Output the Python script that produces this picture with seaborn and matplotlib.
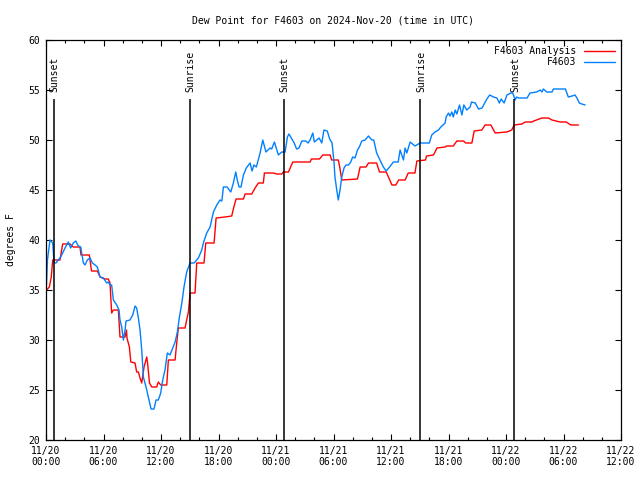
import pandas as pd
import numpy as np
import matplotlib
matplotlib.use("Agg")
import matplotlib.pyplot as plt
import seaborn as sns
from matplotlib.ticker import MultipleLocator, FixedLocator

# hours since 2024-11-20 00:00 UTC
obs_hours = [0.05, 0.15, 0.42, 0.70, 0.84, 1.04, 1.29, 1.53, 1.74, 1.98, 2.33, 2.57, 2.85, 3.10,
             3.38, 3.62, 3.90, 4.07, 4.31, 4.60, 4.84, 5.12, 5.36, 5.64, 5.99, 6.33, 6.50, 6.68,
             6.85, 7.03, 7.38, 7.62, 7.72, 7.90, 8.07, 8.25, 8.35, 8.76, 9.05, 9.29, 9.46, 9.64,
             9.81, 9.99, 10.16, 10.44, 10.68, 10.96, 11.27, 11.48, 11.72, 11.97, 12.18, 12.42,
             12.66, 12.94, 13.22, 13.47, 13.71, 13.92, 14.16, 14.40, 14.68, 15.03, 15.45, 15.90,
             16.25, 16.45, 16.77, 17.12, 17.47, 17.82, 18.16, 18.35, 18.51, 18.90, 19.28, 19.55,
             19.80, 19.98, 20.15, 20.35, 20.60, 20.90, 21.30, 21.50, 21.70, 21.95, 22.34, 22.62,
             22.95, 23.38, 23.55, 23.83, 24.25, 24.60, 24.95, 25.19, 25.35, 25.90, 26.15, 26.40,
             26.70, 27.10, 27.35, 27.55, 27.84, 28.00, 28.25, 28.50, 28.78, 29.00, 29.35, 29.60,
             29.85, 30.06, 30.15, 30.34, 30.50, 30.68, 30.86, 31.10, 31.30, 31.56, 31.80, 32.00,
             32.25, 32.50, 32.70, 32.95, 33.30, 33.65, 34.00, 34.20, 34.50, 34.85, 35.20, 35.50,
             35.85, 36.25, 36.75, 36.95, 37.30, 37.47, 37.65, 38.00, 38.50, 39.04, 40.00, 40.25,
             40.60, 40.95, 41.20, 41.65, 41.75, 42.00, 42.15, 42.35, 42.50, 42.70, 42.87, 43.15,
             43.40, 43.60, 43.90, 44.26, 44.40, 44.80, 45.13, 45.50, 46.00, 46.30, 46.70, 47.05,
             47.30, 47.50, 47.80, 48.10, 48.50, 48.70, 48.96, 49.10, 49.30, 50.20, 50.50, 51.20,
             51.57, 51.75, 51.90, 52.25, 52.80, 52.95, 54.20, 54.35, 54.50, 54.90, 55.20, 55.40,
             55.65, 55.90, 56.26]
obs_dewpt = [35.5, 38.0, 40.0, 39.7, 37.7, 37.7, 38.0, 38.3, 38.7, 39.2, 39.8, 39.2, 39.7, 39.9,
             39.4, 39.3, 37.7, 37.5, 38.0, 38.2, 37.7, 37.5, 37.3, 36.3, 36.2, 35.7, 35.8, 35.5,
             35.5, 34.0, 33.5, 33.0, 32.0, 31.3, 30.0, 31.0, 31.9, 32.0, 32.5, 33.4, 33.2, 32.2,
             31.0, 29.0, 26.3, 25.3, 24.3, 23.1, 23.1, 24.0, 24.0, 24.7, 26.0, 27.0,
             28.7, 28.5, 29.2, 29.8, 30.8, 32.3, 33.6, 35.3, 36.8, 37.7, 37.7, 38.2,
             39.0, 39.8, 40.7, 41.3, 42.8, 43.5, 44.0, 43.9, 45.3, 45.3, 44.8, 45.7,
             46.8, 45.9, 45.3, 45.3, 46.5, 47.2, 47.7, 46.9, 47.5, 47.3, 48.7, 50.0,
             48.8, 49.2, 49.1, 49.8, 48.5, 48.8, 48.8, 50.3, 50.6, 49.7, 49.1, 49.2,
             49.9, 49.9, 49.7, 50.0, 50.7, 49.8, 50.0, 50.2, 49.7, 51.0, 50.9, 50.1,
             49.7, 47.7, 46.3, 45.0, 44.0, 45.0, 46.3, 47.2, 47.5, 47.5, 47.8, 48.3,
             48.2, 49.0, 49.3, 49.9, 50.0, 50.4, 50.0, 50.0, 48.7, 48.0, 47.3, 46.9,
             47.3, 47.8, 47.8, 49.0, 48.0, 49.2, 48.7, 49.8, 49.4, 49.7, 49.7, 50.5,
             50.8, 51.0, 51.3, 51.7, 52.3, 52.7, 52.4, 52.8, 52.3, 53.0, 52.6, 53.5,
             52.5, 53.5, 53.0, 53.3, 53.8, 53.7, 53.1, 53.2, 54.1, 54.5, 54.3, 54.2,
             53.7, 54.1, 53.7, 54.5, 54.7, 54.7, 54.0, 54.3, 54.2, 54.2, 54.7, 54.8,
             55.0, 54.8, 55.1, 54.8, 54.8, 55.1, 55.1, 54.7, 54.3, 54.4, 54.5, 54.2,
             53.7, 53.6, 53.5]

ana_hours = [0.05, 0.35, 0.55, 0.70, 1.46, 1.74, 2.50, 2.85, 3.55, 3.65, 4.52, 4.75, 5.36, 5.64,
             6.16, 6.50, 6.68, 6.85, 7.03, 7.55, 7.72, 8.25, 8.40, 8.45, 8.70, 8.85, 9.29, 9.46,
             9.64, 9.81, 9.99, 10.23, 10.51, 10.60, 10.80, 11.04, 11.55, 11.72, 11.97, 12.60,
             12.77, 13.47, 13.64, 13.81, 14.51, 14.68, 14.86, 15.03, 15.55, 15.73, 16.49, 16.67,
             17.54, 17.75, 18.68, 19.38, 19.55, 19.83, 20.60, 20.78, 21.47, 21.82, 22.16, 22.68,
             22.79, 23.73, 24.08, 24.60, 24.77, 25.30, 25.75, 27.56, 27.70, 28.53, 28.88, 29.65,
             29.80, 30.50, 30.65, 30.86, 32.50, 32.78, 33.40, 33.65, 34.50, 34.80, 35.50, 36.10,
             36.50, 36.80, 37.47, 37.80, 38.50, 38.70, 39.60, 39.70, 40.43, 40.80, 41.65, 41.80,
             42.50, 42.87, 43.56, 43.80, 44.44, 44.68, 45.48, 45.82, 46.42, 46.87, 48.10, 48.60,
             48.85, 49.66, 50.00, 50.70, 50.90, 51.74, 52.43, 52.80, 53.65, 54.28, 54.77, 55.56]
ana_dewpt = [35.0, 35.3, 36.3, 38.0, 38.0, 39.6, 39.6, 39.3, 39.3, 38.5, 38.5, 36.9, 36.9, 36.3,
             36.1, 36.1, 35.7, 32.7, 33.0, 33.0, 30.3, 30.3, 31.0, 30.2, 29.3, 27.8, 27.7, 26.8,
             26.8, 26.2, 25.7, 27.3, 28.3, 27.7, 25.7, 25.3, 25.3, 25.8, 25.5, 25.5,
             28.0, 28.0, 29.7, 31.2, 31.2, 32.0, 32.8, 34.7, 34.7, 37.7, 37.7, 39.7,
             39.7, 42.2, 42.3, 42.4, 43.1, 44.1, 44.1, 44.6, 44.6, 45.2, 45.7, 45.7,
             46.7, 46.7, 46.6, 46.6, 46.8, 46.8, 47.8, 47.8, 48.1, 48.1, 48.5, 48.5,
             48.0, 48.0, 47.3, 46.0, 46.1, 47.3, 47.3, 47.7, 47.7, 46.8, 46.8, 45.5,
             45.5, 46.0, 46.0, 46.7, 46.7, 47.9, 48.0, 48.4, 48.5, 49.2, 49.3, 49.4,
             49.4, 49.9, 49.9, 49.7, 49.7, 50.9, 51.0, 51.5, 51.5, 50.7, 50.8, 51.0,
             51.5, 51.6, 51.8, 51.8, 51.9, 52.2, 52.2, 52.0, 51.8, 51.8, 51.5, 51.5]

sun_events = ["Sunset", "Sunrise", "Sunset", "Sunrise", "Sunset"]
sun_hours = [0.8, 15.0, 24.8, 39.05, 48.85]

tick_hours = list(range(0, 61, 6))
tick_labels = ["11/20\n00:00", "11/20\n06:00", "11/20\n12:00", "11/20\n18:00",
               "11/21\n00:00", "11/21\n06:00", "11/21\n12:00", "11/21\n18:00",
               "11/22\n00:00", "11/22\n06:00", "11/22\n12:00"]

ana = pd.DataFrame({"hour": ana_hours, "dewpt": ana_dewpt})
obs = pd.DataFrame({"hour": obs_hours, "dewpt": obs_dewpt})

sns.set_style("ticks")
plt.rcParams["font.family"] = ["DejaVu Sans Mono", "DejaVu Sans"]
plt.rcParams["font.size"] = 7
for key in ["text.color", "axes.labelcolor", "xtick.color", "ytick.color", "axes.edgecolor"]:
    plt.rcParams[key] = "black"

fig = plt.figure(figsize=(6.4, 4.8), dpi=100)
ax = fig.add_axes([46 / 640, 1 - 440 / 480, 575 / 640, 400 / 480])

sns.lineplot(ana, x="hour", y="dewpt", color="#ff0000", lw=1.0, estimator=None,
             label="F4603 Analysis", ax=ax)
sns.lineplot(obs, x="hour", y="dewpt", color="#0080ff", lw=1.0, estimator=None,
             label="F4603", ax=ax)

# sunrise / sunset markers
ax.vlines(sun_hours, 20, 54.1, color="black", lw=1.1)
for name, h in zip(sun_events, sun_hours):
    ax.text(h + 0.1, 54.8, name, rotation=90, ha="center", va="bottom", fontsize=7)

ax.set_xlim(0, 60)
ax.set_ylim(20, 60)
ax.xaxis.set_major_locator(FixedLocator(tick_hours))
ax.set_xticklabels(tick_labels)
ax.xaxis.set_minor_locator(MultipleLocator(2))
ax.yaxis.set_major_locator(MultipleLocator(5))
ax.tick_params(which="both", direction="in", top=True, right=True, width=0.8, labelsize=7)
ax.tick_params(which="major", length=4.5, pad=4)
ax.tick_params(which="minor", length=2.5)
for s in ax.spines.values():
    s.set_linewidth(0.9)
    s.set_color("black")

ax.set_xlabel("")
ax.set_ylabel("degrees F", fontsize=7, labelpad=9)
ax.set_title("Dew Point for F4603 on 2024-Nov-20 (time in UTC)", fontsize=7, pad=12)

ax.legend(loc="upper right", markerfirst=False, frameon=False, handlelength=3.2,
          fontsize=7, borderaxespad=0.25, labelspacing=0.1, handletextpad=0.8)

fig.savefig("out.png", dpi=100)
